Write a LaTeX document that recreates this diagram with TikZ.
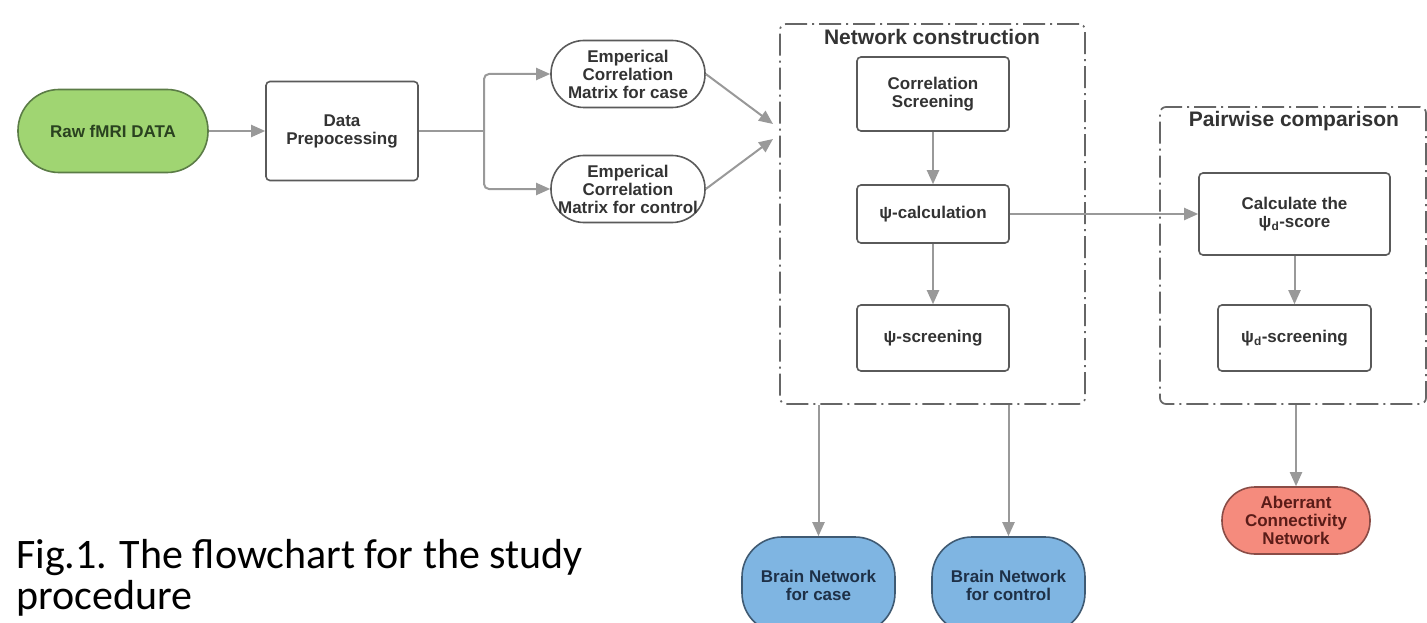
\documentclass[tikz,border=0pt]{standalone}
\usepackage{fontspec}
\setmainfont{Liberation Sans}
\newfontfamily\capfont{Carlito}
\usetikzlibrary{arrows.meta}
\definecolor{greenf}{HTML}{A0D572}
\definecolor{greend}{HTML}{5B7C46}
\definecolor{greent}{HTML}{2A4220}
\definecolor{bluef}{HTML}{7FB5E2}
\definecolor{blued}{HTML}{3F5A73}
\definecolor{bluet}{HTML}{1E3047}
\definecolor{salf}{HTML}{F58B7D}
\definecolor{sald}{HTML}{8A4C46}
\definecolor{salt}{HTML}{5A1C18}
\definecolor{boxc}{HTML}{5A5A5A}
\definecolor{txt}{HTML}{333333}
\definecolor{arrc}{HTML}{999999}
\definecolor{grpc}{HTML}{666666}
\tikzset{
  base/.style={inner sep=0pt, align=center, line width=1.6pt, font=\bfseries\fontsize{17}{18}\selectfont},
  proc/.style={base, rectangle, draw=boxc, fill=white, text=txt, rounded corners=4pt},
  term/.style={base, rectangle, draw=boxc, fill=white, text=txt},
  grp/.style={rectangle, draw=grpc, line width=1.7pt, rounded corners=6pt, dash pattern=on 22pt off 5pt on 2pt off 5pt, inner sep=0pt},
  ttl/.style={inner sep=0pt, text=txt, font=\bfseries\fontsize{21}{23}\selectfont},
  conn/.style={draw=arrc, line width=2pt},
  arr/.style={conn, -{Triangle[length=14pt,width=12pt]}, arrc}
}
\begin{document}
\begin{tikzpicture}[x=1pt,y=-1pt]
\useasboundingbox (0,0) rectangle (1427,623);
\clip (0,0) rectangle (1427,623);
\fill[white] (0,0) rectangle (1427,623);

% groups
\node[grp, minimum width=305pt, minimum height=380pt] (nc) at (932.5,214) {};
\node[ttl] (nct) at (932,37) {Network construction};
\node[grp, minimum width=266pt, minimum height=297pt] (pc) at (1293,255.5) {};
\node[ttl] (pct) at (1294,121) {Pairwise comparison};

% nodes
\node[term, fill=greenf, draw=greend, text=greent, minimum width=190pt, minimum height=83pt, rounded corners=41pt] (raw) at (113,131) {Raw fMRI DATA};
\node[proc, minimum width=152pt, minimum height=99pt] (dp) at (342,131) {Data\\Prepocessing};
\node[term, minimum width=154pt, minimum height=67pt, rounded corners=33pt] (ec) at (628,74) {Emperical\\Correlation\\Matrix for case};
\node[term, minimum width=154pt, minimum height=67pt, rounded corners=33pt] (ectl) at (628,189) {Emperical\\Correlation\\Matrix for control};

\node[proc, minimum width=152pt, minimum height=74pt] (cs) at (933,94) {Correlation\\Screening};
\node[proc, minimum width=152pt, minimum height=58pt] (psc) at (933,214) {ψ-calculation};
\node[proc, minimum width=152pt, minimum height=66pt] (pss) at (933,338) {ψ-screening};

\node[proc, minimum width=191pt, minimum height=82pt] (cal) at (1294.5,214) {Calculate the\\ψ\textsubscript{d}-score};
\node[proc, minimum width=153pt, minimum height=66pt] (pds) at (1294.5,338) {ψ\textsubscript{d}-screening};

\node[term, fill=salf, draw=sald, text=salt, minimum width=148pt, minimum height=67pt, rounded corners=33pt] (ab) at (1296,520.5) {Aberrant\\Connectivity\\Network};
\node[term, fill=bluef, draw=blued, text=bluet, minimum width=153pt, minimum height=96pt, rounded corners=40pt] (bc) at (818.5,585) {Brain Network\\for case};
\node[term, fill=bluef, draw=blued, text=bluet, minimum width=153pt, minimum height=96pt, rounded corners=40pt] (bctl) at (1008.5,585) {Brain Network\\for control};

% caption
\node[anchor=north west, align=left, inner sep=0pt, font=\capfont\fontsize{42}{41}\selectfont] (cap) at (16,539) {Fig.1. The flowchart for the study\\procedure};

% connectors
\draw[arr] (raw) -- (dp);
\coordinate (br) at (484,131);
\draw[conn] (dp.east) -- (br);
\draw[arr, rounded corners=5pt] (br) |- (ec.west);
\draw[arr, rounded corners=5pt] (br) |- (ectl.west);
\coordinate (in1) at (773,124);
\coordinate (in2) at (773,139);
\draw[arr] (ec.east) -- (in1);
\draw[arr] (ectl.east) -- (in2);
\draw[arr] (cs) -- (psc);
\draw[arr] (psc) -- (pss);
\draw[arr] (psc) -- (cal);
\draw[arr] (cal) -- (pds);
\draw[arr] (ab.north |- pc.south) -- (ab.north);
\draw[arr] (bc.north |- nc.south) -- (bc.north);
\draw[arr] (bctl.north |- nc.south) -- (bctl.north);
\end{tikzpicture}
\end{document}
